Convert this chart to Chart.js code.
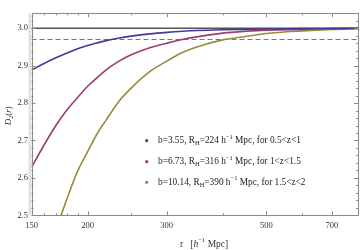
<!DOCTYPE html>
<html>
<head>
<meta charset="utf-8">
<script src="https://cdn.jsdelivr.net/npm/chart.js@4.4.0/dist/chart.umd.min.js"></script>
<style>
html, body { margin: 0; padding: 0; background: #fff; }
#wrap { width: 361px; height: 250px; position: relative; }
</style>
</head>
<body>
<div id="wrap"><canvas id="myChart"></canvas></div>
<script>
// r in h^-1 Mpc
const rValues = [150, 160, 170, 180, 190, 200, 210, 220, 235, 250, 275, 300, 325, 350, 400, 450, 500, 600, 700, 800];

// D2(r)
const blueValues = [2.888, 2.906, 2.921, 2.934, 2.945, 2.954, 2.961, 2.967, 2.974, 2.979, 2.985, 2.989, 2.992, 2.994, 2.996, 2.997, 2.998, 2.999, 2.9995, 3.0];
const magentaValues = [2.628, 2.688, 2.740, 2.782, 2.815, 2.845, 2.868, 2.889, 2.912, 2.929, 2.948, 2.960, 2.970, 2.977, 2.987, 2.992, 2.995, 2.997, 2.999, 2.9995];
const oliveValues = [null, null, 2.46, 2.545, 2.618, 2.670, 2.718, 2.755, 2.805, 2.840, 2.884, 2.912, 2.935, 2.950, 2.969, 2.978, 2.986, 2.993, 2.997, 2.999];

// legend text pieces
const bLabels = ['3.55', '6.73', '10.14'];
const rhLabels = ['224', '316', '390'];
const zLabels = ['0.5<z<1', '1<z<1.5', '1.5<z<2'];

const homogeneityLevel = 3.0;
const thresholdLevel = 2.97;

const xTickValues = [150, 200, 300, 500, 700];
const xMinorTicks = [160, 170, 180, 190, 250, 400, 600, 800];
const yTickValues = [2.5, 2.6, 2.7, 2.8, 2.9, 3.0];
const yMinorTicks = [2.52, 2.54, 2.56, 2.58, 2.62, 2.64, 2.66, 2.68, 2.72, 2.74, 2.76, 2.78,
                     2.82, 2.84, 2.86, 2.88, 2.92, 2.94, 2.96, 2.98, 3.02];

const colors = ['#3d3d99', '#993d71', '#998b3d'];
const serif = '"Liberation Serif", "DejaVu Serif", serif';

function toPoints(values) {
    return rValues.map((r, i) => ({ x: r, y: values[i] }));
}

// draws a string made of normal / sub / sup pieces, returns end x
function drawRich(ctx, x, y, parts, size) {
    parts.forEach(p => {
        const mode = p[1] || '';
        const small = mode === 'sub' || mode === 'sup';
        const fs = small ? size * 0.7 : size;
        const style = p[2] ? 'italic ' : '';
        ctx.font = style + fs + 'px ' + serif;
        let dy = 0;
        if (mode === 'sub') dy = size * 0.3;
        if (mode === 'sup') dy = -size * 0.38;
        ctx.fillText(p[0], x, y + dy);
        x += ctx.measureText(p[0]).width;
    });
    return x;
}

const framePlugin = {
    id: 'framePlugin',
    beforeDatasetsDraw(chart) {
        const ctx = chart.ctx;
        const a = chart.chartArea;
        const ys = chart.scales.y;
        ctx.save();
        ctx.strokeStyle = '#555';
        ctx.lineWidth = 1.3;
        let py = ys.getPixelForValue(homogeneityLevel);
        ctx.beginPath();
        ctx.moveTo(a.left, py);
        ctx.lineTo(a.right, py);
        ctx.stroke();
        ctx.strokeStyle = '#777';
        ctx.lineWidth = 1;
        ctx.setLineDash([5, 3]);
        py = ys.getPixelForValue(thresholdLevel);
        ctx.beginPath();
        ctx.moveTo(a.left, py);
        ctx.lineTo(a.right, py);
        ctx.stroke();
        ctx.restore();
    },
    afterDraw(chart) {
        const ctx = chart.ctx;
        const a = chart.chartArea;
        const xs = chart.scales.x;
        const ys = chart.scales.y;
        ctx.save();

        // frame
        ctx.fillStyle = '#e2e2e2';
        ctx.fillRect(a.left - 3, a.top, 3, a.bottom - a.top);
        ctx.strokeStyle = '#8a8a8a';
        ctx.lineWidth = 1;
        ctx.strokeRect(Math.round(a.left) + 0.5, Math.round(a.top) + 0.5,
                       Math.round(a.right - a.left) - 1, Math.round(a.bottom - a.top));

        // inward ticks on all four sides
        ctx.beginPath();
        const tickX = (v, len) => {
            const px = Math.round(xs.getPixelForValue(v)) + 0.5;
            ctx.moveTo(px, a.bottom); ctx.lineTo(px, a.bottom - len);
            ctx.moveTo(px, a.top); ctx.lineTo(px, a.top + len);
        };
        const tickY = (v, len) => {
            const py = Math.round(ys.getPixelForValue(v)) + 0.5;
            ctx.moveTo(a.left, py); ctx.lineTo(a.left + len, py);
            ctx.moveTo(a.right, py); ctx.lineTo(a.right - len, py);
        };
        xTickValues.forEach(v => tickX(v, 4));
        xMinorTicks.forEach(v => tickX(v, 2));
        yTickValues.forEach(v => tickY(v, 4));
        yMinorTicks.forEach(v => tickY(v, 2));
        ctx.stroke();

        // legend
        ctx.textBaseline = 'middle';
        const rows = [140.7, 161.7, 182.3];
        chart.data.datasets.forEach((ds, i) => {
            ctx.fillStyle = ds.borderColor;
            ctx.beginPath();
            ctx.arc(146.7, rows[i], 1.6, 0, Math.PI * 2);
            ctx.fill();
            ctx.fillStyle = '#222';
            drawRich(ctx, 158, rows[i], [
                ['b=' + bLabels[i] + ', R'], ['H', 'sub'], ['=' + rhLabels[i] + ' h'],
                ['\u22121', 'sup'], [' Mpc, for ' + zLabels[i]]
            ], 9.3);
        });

        // axis titles
        ctx.fillStyle = '#333';
        drawRich(ctx, 180, 244, [['r'], ['   ['], ['h', '', true], ['\u22121', 'sup'], [' Mpc]']], 9.5);

        ctx.translate(9, (a.top + a.bottom) / 2);
        ctx.rotate(-Math.PI / 2);
        ctx.textAlign = 'left';
        drawRich(ctx, -11, 0, [['D', '', true], ['2', 'sub'], ['('], ['r', '', true], [')']], 9);
        ctx.restore();
    }
};

const ctx = document.getElementById('myChart').getContext('2d');
const myChart = new Chart(ctx, {
    type: 'line',
    data: {
        datasets: [
            { label: 'b=3.55', data: toPoints(blueValues), borderColor: colors[0] },
            { label: 'b=6.73', data: toPoints(magentaValues), borderColor: colors[1] },
            { label: 'b=10.14', data: toPoints(oliveValues), borderColor: colors[2] }
        ].map(ds => Object.assign(ds, {
            borderWidth: 1.6,
            pointRadius: 0,
            fill: false,
            cubicInterpolationMode: 'monotone',
            spanGaps: false,
            clip: 0
        }))
    },
    options: {
        responsive: true,
        maintainAspectRatio: false,
        animation: false,
        layout: { padding: { left: 0, right: 3, top: 13.3, bottom: 0 } },
        scales: {
            x: {
                type: 'logarithmic',
                min: 150,
                max: 800,
                afterBuildTicks: scale => { scale.ticks = xTickValues.map(v => ({ value: v })); },
                afterFit: scale => { scale.height = 34.7; },
                grid: { display: false, drawTicks: false },
                border: { display: false },
                ticks: {
                    autoSkip: false,
                    maxRotation: 0,
                    padding: 5,
                    color: '#333',
                    font: { family: serif, size: 8.5 },
                    callback: v => String(v)
                }
            },
            y: {
                type: 'linear',
                min: 2.5,
                max: 3.04,
                afterBuildTicks: scale => { scale.ticks = yTickValues.map(v => ({ value: v })); },
                afterFit: scale => { scale.width = 31.5; },
                grid: { display: false, drawTicks: false },
                border: { display: false },
                ticks: {
                    padding: 3.5,
                    color: '#333',
                    font: { family: serif, size: 8.5 },
                    callback: v => v.toFixed(1)
                }
            }
        },
        plugins: {
            legend: { display: false },
            tooltip: { enabled: false }
        }
    },
    plugins: [framePlugin]
});
</script>
</body>
</html>
